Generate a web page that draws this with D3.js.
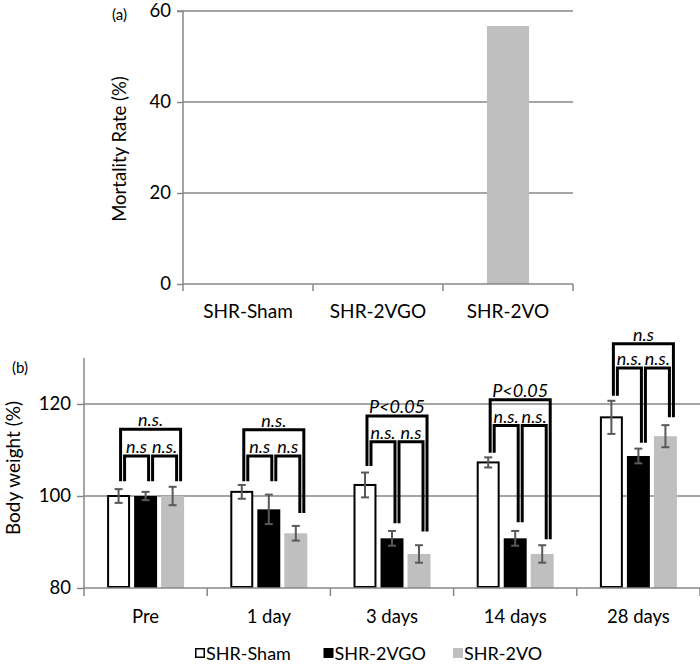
<!DOCTYPE html>
<html><head><meta charset="utf-8">
<script src="https://cdn.jsdelivr.net/npm/d3@7"></script>
<style>
html,body{margin:0;padding:0;background:#fff;}
svg{display:block;font-family:Lato,"Open Sans",sans-serif;}
</style></head>
<body>
<svg id="chart" width="700" height="665"></svg>
<script>
// ---------- data ----------
const catsA = ["SHR-Sham", "SHR-2VGO", "SHR-2VO"];
const mortality = [0, 0, 56.7];
const ticksA = [0, 20, 40, 60];

const timepoints = ["Pre", "1 day", "3 days", "14 days", "28 days"];
const groups = ["SHR-Sham", "SHR-2VGO", "SHR-2VO"];
const shamMean = [100, 100.9, 102.4, 107.3, 117.1];
const shamErr  = [1.5, 1.5, 2.7, 1.1, 3.6];
const vgoMean  = [100, 97.1, 90.8, 90.8, 108.7];
const vgoErr   = [0.9, 3.2, 1.6, 1.6, 1.6];
const voMean   = [100, 91.9, 87.4, 87.4, 113.0];
const voErr    = [2.0, 1.6, 1.9, 1.9, 2.4];
const ticksB = [80, 100, 120];

// significance brackets (values in % body weight)
const outerLabel = ["n.s.", "n.s.", "P<0.05", "P<0.05", "n.s"];
const leftLabel  = ["n.s", "n.s", "n.s.", "n.s.", "n.s."];
const rightLabel = ["n.s.", "n.s", "n.s", "n.s.", "n.s."];
const outerTop   = [114.5, 114.4, 117.4, 120.9, 133.1];
const innerTop   = [108.7, 108.7, 111.8, 115.3, 127.8];
const shamLegEnd = [103.2, 103.2, 106.5, 109.4, 121.8];
const vgoLegEnd  = [103.2, 103.2, 94.1, 94.3, 111.6];
const voLegEnd   = [103.2, 96.3, 92.3, 90.6, 117.1];

// ---------- styles ----------
const GRID = "#878787", ERR = "#595959", GRAYBAR = "#bfbfbf";
const svg = d3.select("#chart");

// ================= Chart (a) =================
const xA = d3.scaleBand().domain(catsA).range([183, 573]);
const yA = d3.scaleLinear().domain([0, 60]).range([284, 11]);
const gA = svg.append("g");

gA.append("g").selectAll("line").data(ticksA.filter(t => t > 0)).join("line")
  .attr("x1", 183).attr("x2", 573)
  .attr("y1", d => yA(d)).attr("y2", d => yA(d))
  .attr("stroke", GRID).attr("stroke-width", 1.5);

gA.append("g").selectAll("rect").data(catsA.map((c, i) => ({c, v: mortality[i]}))).join("rect")
  .attr("x", d => xA(d.c) + xA.bandwidth() / 2 - xA.bandwidth() * 0.162)
  .attr("width", xA.bandwidth() * 0.324)
  .attr("y", d => yA(d.v)).attr("height", d => yA(0) - yA(d.v))
  .attr("fill", GRAYBAR);

const axA = gA.append("g").attr("transform", "translate(183,0)")
  .call(d3.axisLeft(yA).tickValues(ticksA).tickSize(6).tickPadding(6).tickFormat(d3.format("d")));
axA.select(".domain").attr("stroke", GRID).attr("stroke-width", 1.5).attr("d", `M-6,${yA(60)}H0V${yA(0)}`);
axA.selectAll(".tick line").attr("stroke", GRID).attr("stroke-width", 1.5);
axA.selectAll(".tick text").attr("font-size", 18.5).attr("fill", "#000").attr("font-family", "Lato");

const xAxA = gA.append("g").attr("transform", `translate(0,${yA(0)})`);
xAxA.append("line").attr("x1", 183).attr("x2", 573).attr("stroke", GRID).attr("stroke-width", 1.5);
xAxA.selectAll("line.tk").data(d3.range(catsA.length + 1)).join("line").attr("class", "tk")
  .attr("x1", i => 183 + i * xA.step()).attr("x2", i => 183 + i * xA.step())
  .attr("y1", 0).attr("y2", 7).attr("stroke", GRID).attr("stroke-width", 1.5);
xAxA.selectAll("text").data(catsA).join("text")
  .attr("x", d => xA(d) + xA.bandwidth() / 2).attr("y", 34)
  .attr("text-anchor", "middle").attr("font-size", 19).text(d => d);

gA.append("text").attr("transform", "translate(126,149) rotate(-90)")
  .attr("text-anchor", "middle").attr("font-size", 18.5).text("Mortality Rate (%)");
gA.append("text").attr("x", 112).attr("y", 20).attr("font-size", 15).text("(a)");

// ================= Chart (b) =================
const xB = d3.scaleBand().domain(timepoints).range([84, 700]);
const x1 = d3.scaleBand().domain(groups).range([-38.5, 38.5]).paddingInner(0.15);
const yB = d3.scaleLinear().domain([80, 130]).range([588, 358]);
const gB = svg.append("g");

gB.append("g").selectAll("line").data(ticksB.filter(t => t > 80)).join("line")
  .attr("x1", 84).attr("x2", 700)
  .attr("y1", d => yB(d)).attr("y2", d => yB(d))
  .attr("stroke", GRID).attr("stroke-width", 1.5);

const means = [shamMean, vgoMean, voMean];
const errs = [shamErr, vgoErr, voErr];
const fills = ["#fff", "#000", GRAYBAR];
const barData = [];
timepoints.forEach((t, i) => groups.forEach((g, j) =>
  barData.push({t, g, j, v: means[j][i], e: errs[j][i]})));

const cx = d => xB(d.t) + xB.bandwidth() / 2 + x1(d.g) + x1.bandwidth() / 2;

gB.append("g").selectAll("rect").data(barData).join("rect")
  .attr("x", d => xB(d.t) + xB.bandwidth() / 2 + x1(d.g) + (d.j === 0 ? 1 : 0))
  .attr("width", d => x1.bandwidth() - (d.j === 0 ? 2 : 0))
  .attr("y", d => yB(d.v)).attr("height", d => yB(80) - yB(d.v) - (d.j === 0 ? 1 : 0))
  .attr("fill", d => fills[d.j])
  .attr("stroke", d => d.j === 0 ? "#000" : "none").attr("stroke-width", 2);

const eb = gB.append("g").attr("stroke", ERR).attr("stroke-width", 2);
eb.selectAll("line.v").data(barData).join("line").attr("class", "v")
  .attr("x1", cx).attr("x2", cx).attr("y1", d => yB(d.v + d.e)).attr("y2", d => yB(d.v - d.e));
eb.selectAll("line.t").data(barData).join("line").attr("class", "t")
  .attr("x1", d => cx(d) - 4).attr("x2", d => cx(d) + 4).attr("y1", d => yB(d.v + d.e)).attr("y2", d => yB(d.v + d.e));
eb.selectAll("line.b").data(barData).join("line").attr("class", "b")
  .attr("x1", d => cx(d) - 4).attr("x2", d => cx(d) + 4).attr("y1", d => yB(d.v - d.e)).attr("y2", d => yB(d.v - d.e));

const axB = gB.append("g").attr("transform", "translate(84,0)")
  .call(d3.axisLeft(yB).tickValues(ticksB).tickSize(7).tickPadding(6).tickFormat(d3.format("d")));
axB.select(".domain").attr("stroke", GRID).attr("stroke-width", 1.5).attr("d", `M0,${yB(130)}V${yB(80)}`);
axB.selectAll(".tick line").attr("stroke", GRID).attr("stroke-width", 1.5);
axB.selectAll(".tick text").attr("font-size", 18.5).attr("fill", "#000").attr("font-family", "Lato");

const xAxB = gB.append("g").attr("transform", `translate(0,${yB(80)})`);
xAxB.append("line").attr("x1", 84).attr("x2", 700).attr("stroke", GRID).attr("stroke-width", 1.5);
xAxB.selectAll("line.tk").data(d3.range(timepoints.length + 1)).join("line").attr("class", "tk")
  .attr("x1", i => 84 + i * xB.step()).attr("x2", i => 84 + i * xB.step())
  .attr("y1", 0).attr("y2", 8).attr("stroke", GRID).attr("stroke-width", 1.5);
xAxB.selectAll("text").data(timepoints).join("text")
  .attr("x", d => xB(d) + xB.bandwidth() / 2).attr("y", 35)
  .attr("text-anchor", "middle").attr("font-size", 18.5).text(d => d);

gB.append("text").attr("transform", "translate(20,468) rotate(-90)")
  .attr("text-anchor", "middle").attr("font-size", 19).text("Body weight (%)");
gB.append("text").attr("x", 12).attr("y", 373).attr("font-size", 15).text("(b)");

// significance brackets
const br = gB.append("g").attr("fill", "none").attr("stroke", "#000").attr("stroke-width", 3);
const bt = gB.append("g").attr("font-size", 18).attr("font-style", "italic").attr("text-anchor", "middle");
timepoints.forEach((t, i) => {
  const c = xB(t) + xB.bandwidth() / 2;
  const gx = j => c + x1(groups[j]) + x1.bandwidth() / 2;
  const oL = gx(0) + 2, iL = gx(0) + 6;
  const mL = gx(1) + 3, mR = gx(1) + 7;
  const iR = gx(2) + 4, oR = gx(2) + 8;
  br.append("path").attr("d",
    `M${oL},${yB(shamLegEnd[i])}V${yB(outerTop[i])}H${oR}V${yB(voLegEnd[i])}`);
  br.append("path").attr("d",
    `M${iL},${yB(shamLegEnd[i])}V${yB(innerTop[i])}H${mL}V${yB(vgoLegEnd[i])}`);
  br.append("path").attr("d",
    `M${mR},${yB(vgoLegEnd[i])}V${yB(innerTop[i])}H${iR}V${yB(voLegEnd[i])}`);
  bt.append("text").attr("x", (oL + oR) / 2).attr("y", yB(outerTop[i]) - 3).text(outerLabel[i]);
  bt.append("text").attr("x", (iL + mL) / 2).attr("y", yB(innerTop[i]) - 3).text(leftLabel[i]);
  bt.append("text").attr("x", (mR + iR) / 2).attr("y", yB(innerTop[i]) - 3).text(rightLabel[i]);
});

// legend
const legX = [195, 323.5, 453];
const lg = svg.append("g").attr("transform", "translate(0,653)");
groups.forEach((g, j) => {
  const s = j === 0 ? 8.5 : 10, o = j === 0 ? 0.75 : 0;
  lg.append("rect").attr("x", legX[j] + o).attr("y", -5 + o)
    .attr("width", s).attr("height", s)
    .attr("fill", fills[j]).attr("stroke", j === 0 ? "#000" : "none").attr("stroke-width", 1.5);
  lg.append("text").attr("x", legX[j] + 11).attr("y", 6.5).attr("font-size", 18).text(g);
});
</script>
</body></html>
